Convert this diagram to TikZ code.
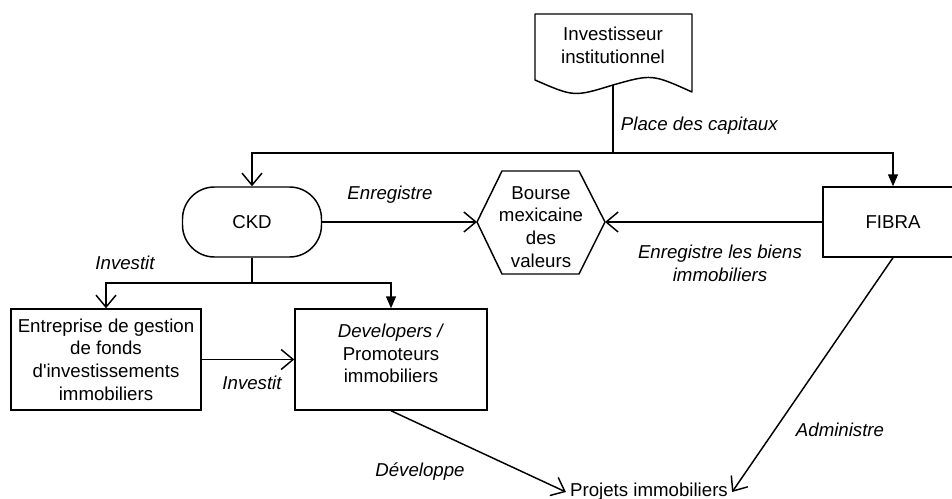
\documentclass[tikz,border=0pt]{standalone}
\usepackage{fontspec}
\setmainfont{Liberation Sans}
\newfontfamily\plainsans{Liberation Sans}
\usetikzlibrary{arrows.meta}
\tikzset{
  bx/.style={draw, line width=1.1pt, align=center, inner sep=0pt},
  shp/.style={draw, line width=1.1pt, line join=round},
  txt/.style={align=center, inner sep=3pt},
  lbl/.style={font=\fontsize{14}{17}\selectfont\itshape, align=center, inner sep=2pt},
  oarr/.style={-{Straight Barb[length=9pt,width=15pt,line width=1.1pt]}, line width=1.1pt},
  farr/.style={-{Triangle[length=9pt,width=7.5pt]}, line width=1.1pt},
}

\begin{document}
\begin{tikzpicture}[x=0.75pt, y=-0.75pt, font=\fontsize{14}{17}\selectfont]
    \clip (0,0) rectangle (952,499);
    % document shape and hexagon
    \draw[shp] (535,80) -- (535,14) -- (692,14) -- (692,92) .. controls (652,74) .. (613,85) coordinate (invb) .. controls (574,97) .. (535,80) -- cycle;
    \node[txt] (inv) at (613,45) {Investisseur\\institutionnel};
    \draw[shp] (477,222) coordinate (bmvw) -- (502,171) -- (579,171) -- (605,222) coordinate (bmve) -- (579,274) -- (502,274) -- cycle;
    \node[txt] (bmv) at (541,227) {Bourse\\mexicaine\\des\\valeurs};
    % boxes
    \node[bx, minimum width=104.25pt, minimum height=52.5pt, rounded corners=24pt] (ckd) at (252,222) {CKD};
    \node[bx, minimum width=105pt, minimum height=52.5pt] (fibra) at (893,222) {FIBRA};
    \node[bx, minimum width=142.5pt, minimum height=75.75pt] (ent) at (106,359.5) {Entreprise de gestion\\de fonds\\d{\plainsans'}investissements\\immobiliers};
    \node[bx, minimum width=144pt, minimum height=75.75pt] (dev) at (391,359.5) {};
    \node[txt, yshift=4.5pt] (devtxt) at (dev.center) {\textit{Developers /}\\Promoteurs\\immobiliers};
    \node[txt] (proj) at (649,492) {Projets immobiliers};
    % connectors
    \coordinate (split) at (613,153);
    \coordinate (ckdsplit) at (252,283);
    \draw[oarr] (invb) -- (split) -| (ckd.north);
    \draw[farr] (split) -| (fibra.north);
    \draw[oarr] (ckd.east) -- (bmvw);
    \draw[oarr] (fibra.west) -- (bmve);
    \draw[oarr] (ckd.south) -- (ckdsplit) -| (ent.north);
    \draw[farr] (ckdsplit) -| (dev.north);
    \draw[oarr] (ent.east) -- (dev.west);
    \draw[oarr] (dev.south) -- (proj.west);
    \draw[oarr] (fibra.south) -- (proj.east);
    % labels
    \node[lbl, anchor=west] (lcap) at (618,126) {Place des capitaux};
    \node[lbl] (lenr) at (390,195) {Enregistre};
    \node[lbl] (lbiens) at (720,263) {Enregistre les biens\\immobiliers};
    \node[lbl] (linv1) at (125,263) {Investit};
    \node[lbl] (linv2) at (252,383) {Investit};
    \node[lbl] (ldev) at (420,472) {Développe};
    \node[lbl] (ladm) at (840,430) {Administre};
\end{tikzpicture}
\end{document}
